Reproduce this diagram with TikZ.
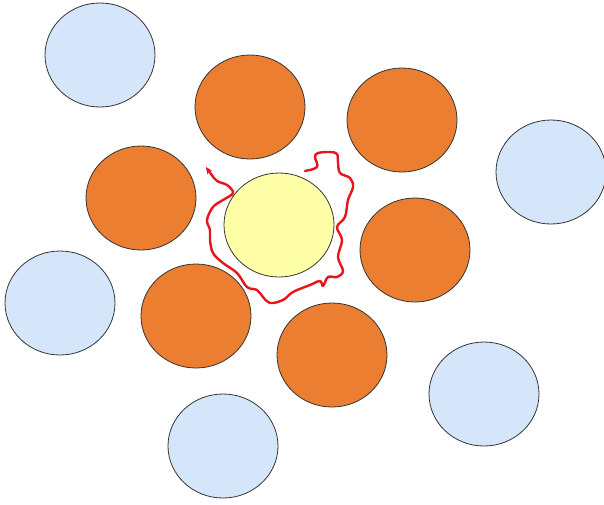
\documentclass[tikz,border=0pt]{standalone}
\usetikzlibrary{shapes.geometric,arrows.meta}
\definecolor{lblue}{HTML}{D5E6FA}
\definecolor{orng}{HTML}{EC7E32}
\definecolor{ylw}{HTML}{FFFFA8}
\definecolor{rd}{HTML}{E8141C}
\tikzset{
  blob/.style={ellipse, draw=black!80, line width=0.8pt, inner sep=0pt, minimum width=110pt, minimum height=104pt},
  bluecirc/.style={blob, fill=lblue},
  orcirc/.style={blob, fill=orng},
  yelcirc/.style={blob, fill=ylw},
  walk/.style={draw=rd, line width=2.4pt, line cap=round, line join=round, -{Stealth[length=7pt,width=6pt]}}
}
\begin{document}
\begin{tikzpicture}[x=1pt,y=-1pt]
\useasboundingbox (0,0) rectangle (604,504);
\node[bluecirc] (b1) at (100,55) {};
\node[bluecirc] (b2) at (551,172) {};
\node[bluecirc] (b3) at (60,303) {};
\node[bluecirc] (b4) at (484,394) {};
\node[bluecirc] (b5) at (223,446) {};
\node[orcirc] (o1) at (250,107) {};
\node[orcirc] (o2) at (402,120) {};
\node[orcirc] (o3) at (141,198) {};
\node[orcirc] (o4) at (415,250) {};
\node[orcirc] (o5) at (196,316) {};
\node[orcirc] (o6) at (332,355) {};
\node[yelcirc] (y) at (279,225) {};
\draw[walk] plot[smooth, tension=0.6] coordinates {
(305,171) (317,167) (315,157) (318,153) (330,152) (337,154) (338,163) (340,173)
(350,178) (353,187) (348,200) (345,217) (337,227) (342,240) (338,257) (343,271)
(337,277) (328,277) (323,286) (320,281) (310,285) (293,292) (283,300) (270,303) (263,297)
(257,290) (247,287) (237,273) (223,263) (213,253) (210,240) (210,230) (207,220)
(213,207) (223,200) (233,193) (227,185) (217,181) (211,174) (206,167)};
\end{tikzpicture}
\end{document}
